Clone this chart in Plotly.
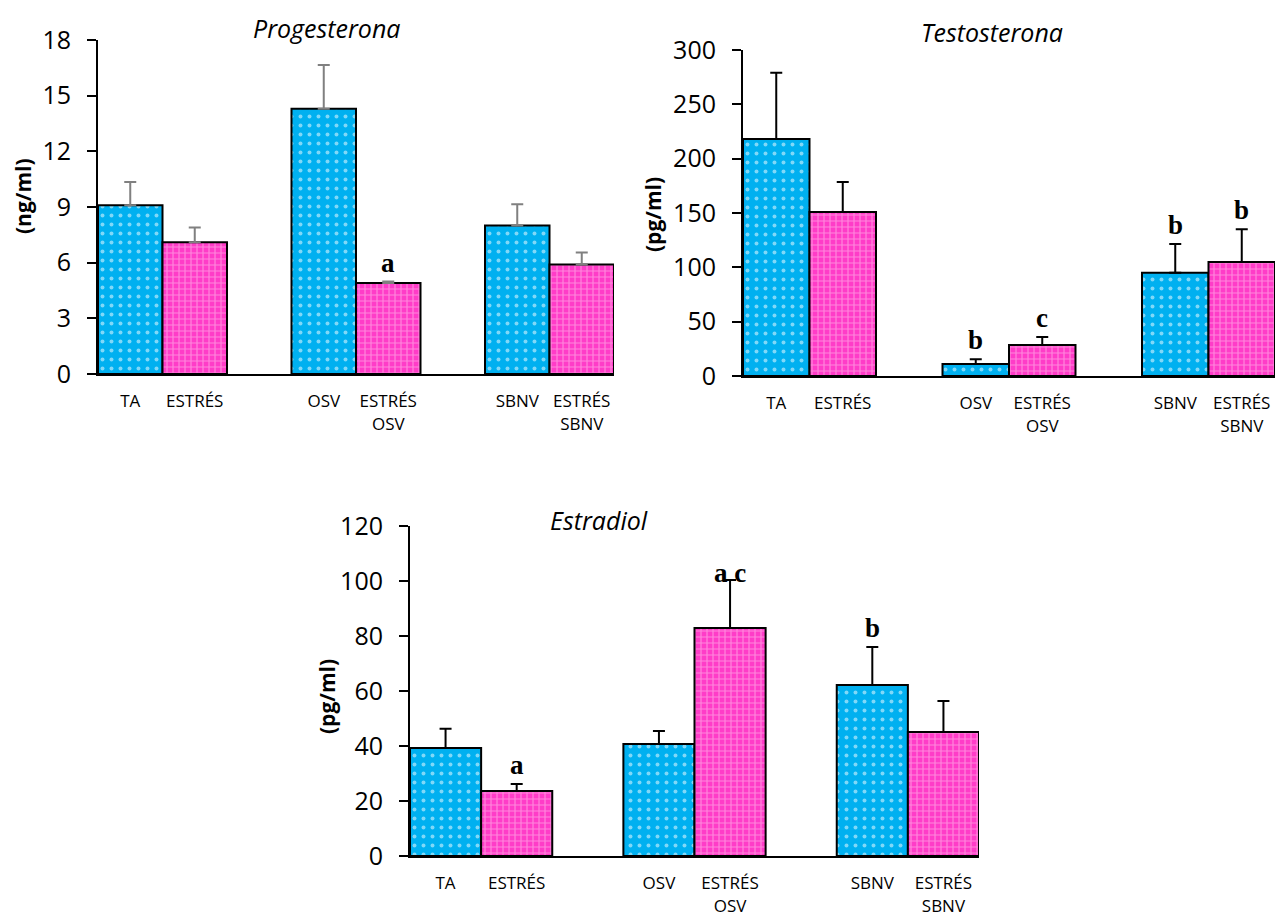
import plotly.graph_objects as go

# ---- data ----
groups_ctrl = ["TA", "OSV", "SBNV"]
groups_stress = ["ESTRÉS", "ESTRÉS<br>OSV", "ESTRÉS<br>SBNV"]
cat_order = ["TA", "ESTRÉS", " ", "OSV", "ESTRÉS<br>OSV", "  ", "SBNV", "ESTRÉS<br>SBNV"]

prog_ctrl = [9.1, 14.3, 8.0]
prog_ctrl_err = [1.25, 2.35, 1.15]
prog_stress = [7.1, 4.9, 5.9]
prog_stress_err = [0.8, 0.08, 0.65]
prog_letters_stress = ["", "a", ""]
prog_letters_ctrl = ["", "", ""]

test_ctrl = [218, 11, 95]
test_ctrl_err = [61, 4.5, 26.5]
test_stress = [151, 28.5, 105]
test_stress_err = [27.5, 7.5, 30]
test_letters_ctrl = ["", "b", "b"]
test_letters_stress = ["", "c", "b"]

estr_ctrl = [39.3, 40.7, 62.2]
estr_ctrl_err = [7.0, 4.8, 13.8]
estr_stress = [23.6, 82.9, 45.1]
estr_stress_err = [2.6, 17.5, 11.3]
estr_letters_ctrl = ["", "", "b"]
estr_letters_stress = ["a", "a c", ""]

BLUE = "#00B0F0"
PINK = "#FF3CC8"
FONT = "Open Sans"

fig = go.Figure()

panels = [
    dict(ax="", ctrl=prog_ctrl, ce=prog_ctrl_err, st=prog_stress, se=prog_stress_err,
         lc=prog_letters_ctrl, ls=prog_letters_stress, errc="#808080",
         title="Progesterona", ytitle="(ng/ml)", rng=[0, 18], dtick=3,
         xdom=[98/1275, 614/1275], ydom=[(918-374)/918, (918-40)/918],
         title_xy=(327, 28), ytitle_xy=(23, 196)),
    dict(ax="2", ctrl=test_ctrl, ce=test_ctrl_err, st=test_stress, se=test_stress_err,
         lc=test_letters_ctrl, ls=test_letters_stress, errc="black",
         title="Testosterona", ytitle="(pg/ml)", rng=[0, 300], dtick=50,
         xdom=[743/1275, 1275/1275], ydom=[(918-376)/918, (918-50)/918],
         title_xy=(992, 32), ytitle_xy=(653, 215)),
    dict(ax="3", ctrl=estr_ctrl, ce=estr_ctrl_err, st=estr_stress, se=estr_stress_err,
         lc=estr_letters_ctrl, ls=estr_letters_stress, errc="black",
         title="Estradiol", ytitle="(pg/ml)", rng=[0, 120], dtick=20,
         xdom=[410/1275, 979/1275], ydom=[(918-856)/918, (918-526)/918],
         title_xy=(599, 520), ytitle_xy=(327, 697)),
]

annotations = []
for p in panels:
    xa = "x" + p["ax"]
    ya = "y" + p["ax"]
    fig.add_trace(go.Bar(
        x=groups_ctrl, y=p["ctrl"], xaxis=xa, yaxis=ya, width=1,
        marker=dict(color=BLUE, line=dict(color="black", width=2),
                    pattern=dict(shape=".", fgcolor="white", bgcolor=BLUE,
                                 size=9, solidity=0.15)),
        error_y=dict(type="data", array=p["ce"], arrayminus=[0]*3, symmetric=False,
                     color=p["errc"], thickness=2, width=6),
        showlegend=False))
    fig.add_trace(go.Bar(
        x=groups_stress, y=p["st"], xaxis=xa, yaxis=ya, width=1,
        marker=dict(color=PINK, line=dict(color="black", width=2),
                    pattern=dict(shape="+", fgcolor="#FFD0F0", bgcolor=PINK,
                                 size=6, solidity=0.35)),
        error_y=dict(type="data", array=p["se"], arrayminus=[0]*3, symmetric=False,
                     color=p["errc"], thickness=2, width=6),
        showlegend=False))
    for cats, vals, errs, lets in [(groups_ctrl, p["ctrl"], p["ce"], p["lc"]),
                                    (groups_stress, p["st"], p["se"], p["ls"])]:
        for c, v, e, l in zip(cats, vals, errs, lets):
            if l:
                annotations.append(dict(
                    x=c, y=v + e, xref=xa, yref=ya, text="<b>%s</b>" % l,
                    showarrow=False, yanchor="bottom", yshift=2 if l != "a c" else -10,
                    font=dict(family="Liberation Serif", size=27, color="black")))
    annotations.append(dict(
        x=p["title_xy"][0]/1275, y=1 - p["title_xy"][1]/918, xref="paper", yref="paper",
        text="<i>%s</i>" % p["title"], showarrow=False, xanchor="center", yanchor="middle",
        font=dict(family=FONT, size=25, color="black")))
    annotations.append(dict(
        x=p["ytitle_xy"][0]/1275, y=1 - p["ytitle_xy"][1]/918, xref="paper", yref="paper",
        text="<b>%s</b>" % p["ytitle"], showarrow=False, textangle=-90,
        xanchor="center", yanchor="middle",
        font=dict(family=FONT, size=21, color="black")))

    axis_x = dict(domain=p["xdom"], anchor=ya, type="category", automargin=False,
                  categoryorder="array", categoryarray=cat_order, range=[-0.5, 7.5],
                  showline=True, linecolor="black", linewidth=2, ticks="",
                  showgrid=False, zeroline=False, ticklabelstandoff=11,
                  tickfont=dict(family=FONT, size=17, color="black"))
    axis_y = dict(domain=p["ydom"], anchor=xa, range=p["rng"], dtick=p["dtick"],
                  automargin=False,
                  showline=True, linecolor="black", linewidth=2, ticks="outside",
                  ticklen=9, tickwidth=2, tickcolor="black", showgrid=False,
                  zeroline=False, ticklabelstandoff=11,
                  tickfont=dict(family=FONT, size=25, color="black"))
    fig.update_layout(**{"xaxis" + p["ax"]: axis_x, "yaxis" + p["ax"]: axis_y})

fig.update_layout(width=1275, height=918, margin=dict(l=0, r=0, t=0, b=0),
                  plot_bgcolor="white", paper_bgcolor="white", barmode="overlay",
                  annotations=annotations)

fig.write_html("out.html")
